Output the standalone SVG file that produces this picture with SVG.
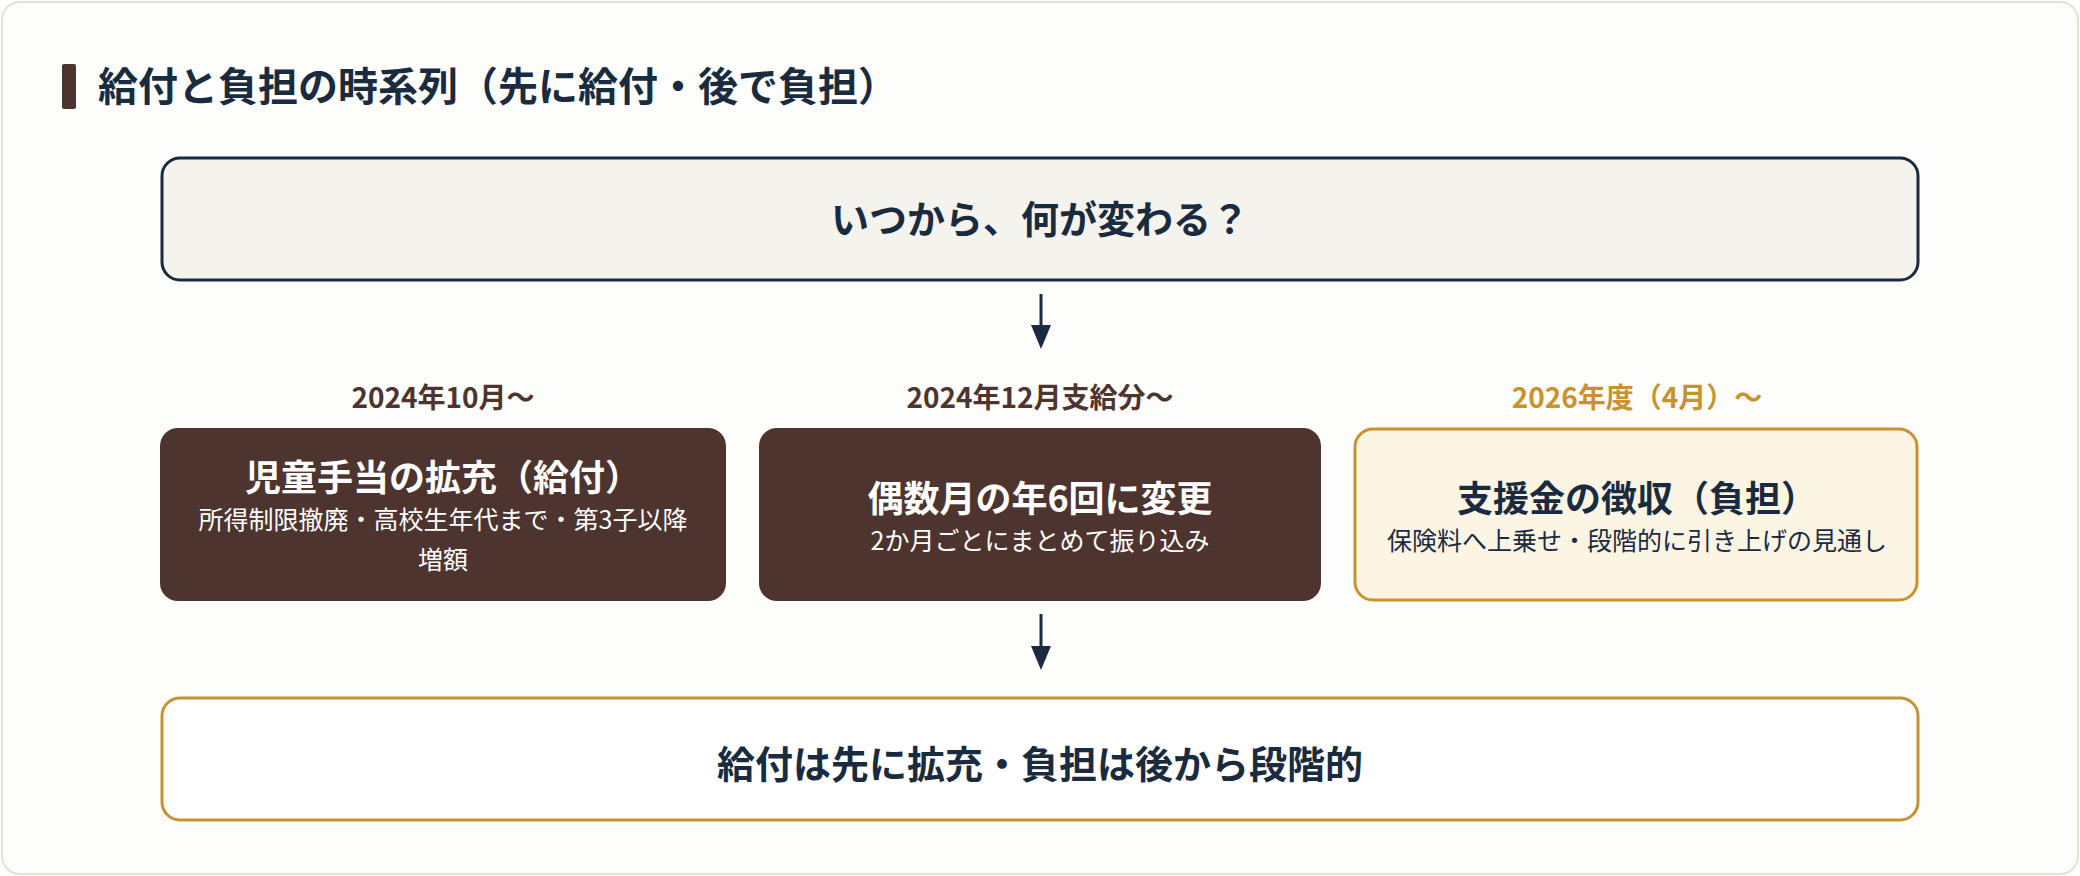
<svg xmlns="http://www.w3.org/2000/svg" width="2080" height="876" viewBox="0 0 2080 876">
<defs>
<style>
text{font-family:"Noto Sans CJK JP","Noto Sans",sans-serif;font-weight:bold;text-anchor:middle}
.w{fill:#ffffff}
.d{fill:#1a2b40}
.sub{font-size:25px;font-weight:normal}
.ti{font-size:36px}
.lab{font-size:28px}
</style>
</defs>
<rect x="2" y="2" width="2076" height="872" rx="18" fill="#fdfdfb" stroke="#e5e1d3" stroke-width="2"/>
<g id="title">
<rect x="62" y="64" width="14" height="45" rx="2" fill="#4e342e"/>
<text x="98" y="101" style="text-anchor:start;font-size:40px" class="d">給付と負担の時系列（先に給付・後で負担）</text>
</g>
<g id="top">
<rect x="162" y="158" width="1756" height="122" rx="18" fill="#f5f3ee" stroke="#1a2b40" stroke-width="3"/>
<text x="1040" y="233" font-size="38" class="d">いつから、何が変わる？</text>
</g>
<g id="connectors" stroke="#1a2b40" stroke-width="3">
<line x1="1041" y1="294" x2="1041" y2="330"/>
<path d="M1031,325 L1051,325 L1041,349 Z" fill="#1a2b40" stroke="none"/>
<line x1="1041" y1="614" x2="1041" y2="651"/>
<path d="M1031,646 L1051,646 L1041,670 Z" fill="#1a2b40" stroke="none"/>
</g>
<g id="labels">
<text x="443" y="408" class="lab" fill="#4e342e">2024年10月〜</text>
<text x="1040" y="408" class="lab" fill="#4e342e">2024年12月支給分〜</text>
<text x="1637" y="408" class="lab" fill="#c8922f">2026年度（4月）〜</text>
</g>
<g id="box1">
<rect x="160" y="428" width="566" height="173" rx="18" fill="#4e342e"/>
<text x="443" y="491" class="ti w">児童手当の拡充（給付）</text>
<text x="443" y="529" class="sub w">所得制限撤廃・高校生年代まで・第3子以降</text>
<text x="443" y="569" class="sub w">増額</text>
</g>
<g id="box2">
<rect x="759" y="428" width="562" height="173" rx="18" fill="#4e342e"/>
<text x="1040" y="512" class="ti w">偶数月の年6回に変更</text>
<text x="1040" y="550" class="sub w">2か月ごとにまとめて振り込み</text>
</g>
<g id="box3">
<rect x="1355" y="429" width="562" height="171" rx="18" fill="#fdf5e4" stroke="#c8922f" stroke-width="3"/>
<text x="1637" y="512" class="ti d">支援金の徴収（負担）</text>
<text x="1637" y="550" class="sub d">保険料へ上乗せ・段階的に引き上げの見通し</text>
</g>
<g id="bottom">
<rect x="162" y="698" width="1756" height="122" rx="18" fill="#ffffff" stroke="#c8922f" stroke-width="3"/>
<text x="1040" y="778" font-size="38" class="d">給付は先に拡充・負担は後から段階的</text>
</g>
</svg>
